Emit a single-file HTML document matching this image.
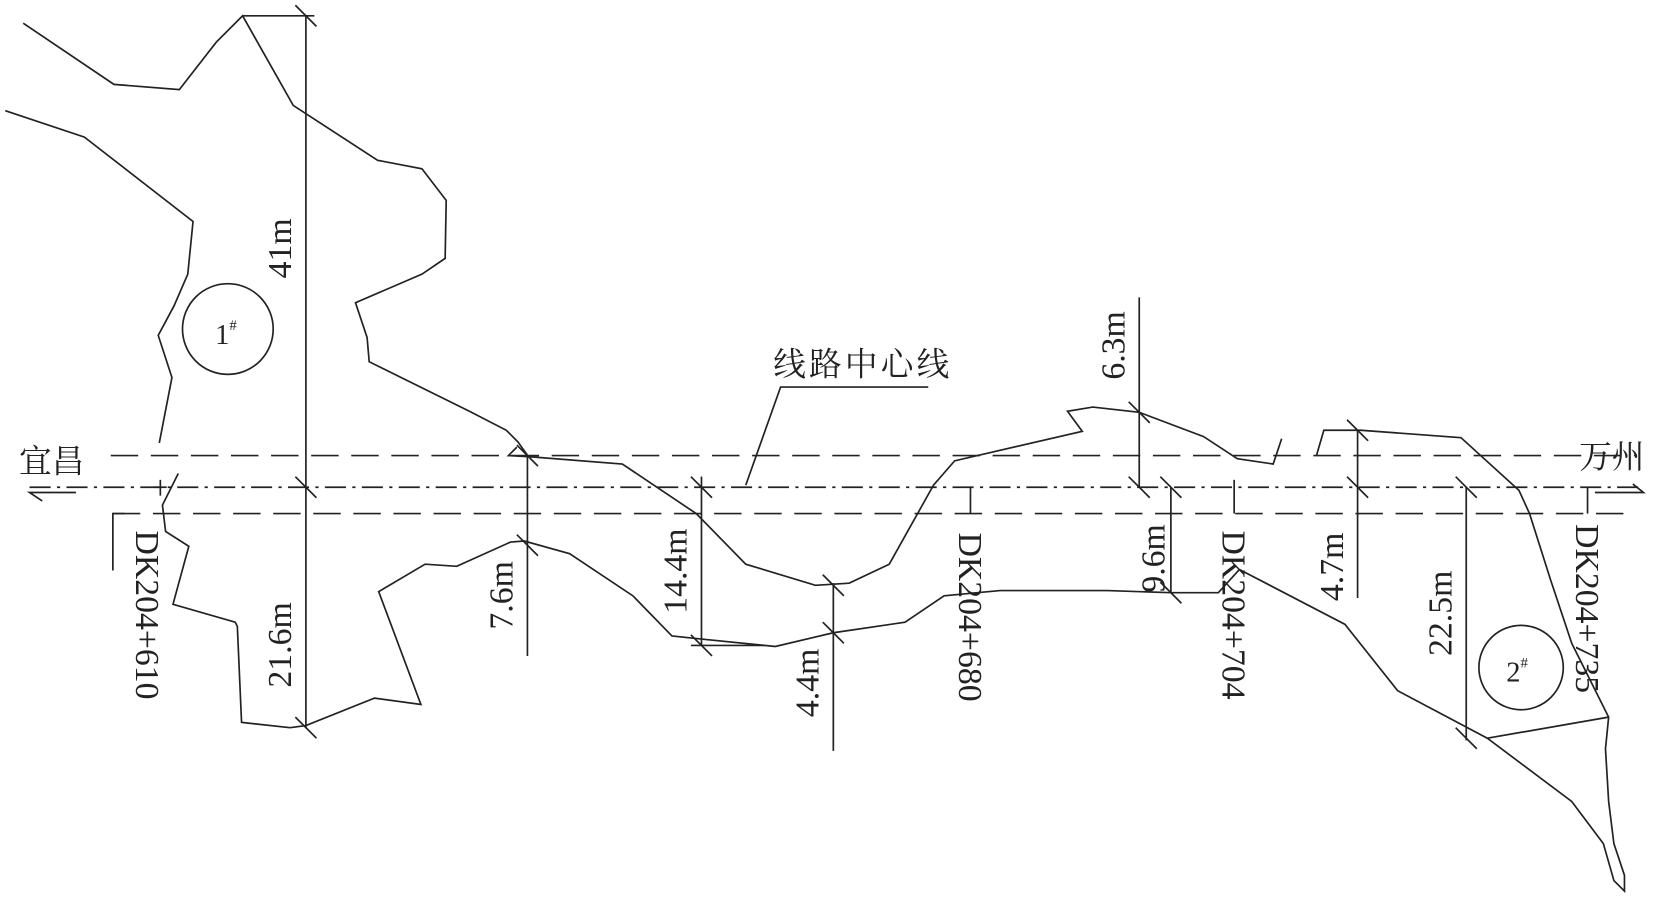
<!DOCTYPE html>
<html><head><meta charset="utf-8"><style>
html,body{margin:0;padding:0;background:#fff;}
svg{display:block}
text{font-family:"Liberation Serif","Noto Serif CJK SC",serif;fill:#222}
</style></head><body>
<svg width="1654" height="908" viewBox="0 0 1568 861" preserveAspectRatio="none" xmlns="http://www.w3.org/2000/svg">
<g fill="none" stroke="#222" stroke-width="1.6" stroke-linejoin="miter">
<line x1="105" y1="432" x2="1550" y2="432" stroke-dasharray="26,12"/>
<line x1="28" y1="462" x2="1558" y2="462" stroke-dasharray="20,6,3,6"/>
<line x1="107" y1="487" x2="1550" y2="487" stroke-dasharray="26,12"/>
<polyline points="107,541 107,487 118,487"/>
<polyline points="40,475 28,467 72,467"/>
<polyline points="1548,459 1558,467 1512,467"/>
<polyline points="22,22 108,80 170,85 205,40 230,15 278,100 358,152 400,160 423,190 422,245 400,260 337,287 348,320 350,343 445,390 480,408 491,419 501,433 482,432 490,424"/>
<polyline points="501,433 590,440 660,487 707,535 773,555 805,553 843,535 885,460 905,437 1026,409 1012,390 1036,386 1080,391 1141,414 1173,435 1207,440 1215,416"/>
<polyline points="1248,432 1255,408 1290,408 1385,415 1440,465 1450,487 1470,550 1490,610 1525,680 1522,710 1525,760 1530,800 1540,830 1540,845 1530,835 1520,800 1490,760 1410,700 1325,655 1275,592 1175,540"/>
<polyline points="1410,700 1525,680"/>
<polyline points="1175,540 1155,562 1110,562 1050,560 948,560 895,565 858,590 790,600 735,613 665,606 637,603 600,565 540,525 497,513 484,514 433,537 403,535 359,561 399,668 355,662 290,688 275,690 229,685 225,594 223,590 164,573 179,518 157,504 154,479 169,449"/>
<polyline points="5,105 80,130 183,210 178,260 165,290 150,318 163,358 151,420"/>
<line x1="290" y1="15" x2="290" y2="690"/>
<line x1="230" y1="15" x2="298" y2="15"/>
<line x1="500" y1="432" x2="500" y2="622"/>
<line x1="665" y1="452" x2="665" y2="612"/>
<line x1="655" y1="612" x2="725" y2="612"/>
<line x1="790" y1="553" x2="790" y2="712"/>
<line x1="920" y1="462" x2="920" y2="487"/>
<line x1="1080" y1="282" x2="1080" y2="462"/>
<line x1="1110" y1="462" x2="1110" y2="562"/>
<line x1="1170" y1="455" x2="1170" y2="487"/>
<line x1="1287" y1="408" x2="1287" y2="567"/>
<line x1="1390" y1="462" x2="1390" y2="702"/>
<line x1="1505" y1="462" x2="1505" y2="487"/>
<line x1="152" y1="455" x2="152" y2="470"/>
<line x1="146" y1="462" x2="158" y2="462"/>
<g>
<line x1="280" y1="5" x2="300" y2="25"/>
<line x1="280" y1="452" x2="300" y2="472"/>
<line x1="280" y1="680" x2="300" y2="700"/>
<line x1="490" y1="422" x2="510" y2="442"/>
<line x1="490" y1="507" x2="510" y2="527"/>
<line x1="655" y1="452" x2="675" y2="472"/>
<line x1="655" y1="602" x2="675" y2="622"/>
<line x1="780" y1="545" x2="800" y2="565"/>
<line x1="780" y1="590" x2="800" y2="610"/>
<line x1="1070" y1="381" x2="1090" y2="401"/>
<line x1="1070" y1="452" x2="1090" y2="472"/>
<line x1="1100" y1="452" x2="1120" y2="472"/>
<line x1="1100" y1="552" x2="1120" y2="572"/>
<line x1="1277" y1="398" x2="1297" y2="418"/>
<line x1="1277" y1="452" x2="1297" y2="472"/>
<line x1="1380" y1="452" x2="1400" y2="472"/>
<line x1="1380" y1="690" x2="1400" y2="710"/>
</g>
<circle cx="216" cy="312" r="43"/>
<circle cx="1442" cy="633" r="40"/>
<polyline points="707,460 740,367 880,367"/>
</g>
<g font-size="32">
<text x="18" y="448" font-size="31">宜昌</text>
<text x="1497" y="444" font-size="31">万州</text>
<text x="733" y="356" font-size="31" letter-spacing="3">线路中心线</text>
<text x="204" y="326" font-size="27">1<tspan font-size="14" dy="-13">#</tspan></text>
<text x="1428" y="646" font-size="27">2<tspan font-size="14" dy="-13">#</tspan></text>
<text transform="translate(276,264) rotate(-90)">41m</text>
<text transform="translate(276,652) rotate(-90)">21.6m</text>
<text transform="translate(486,597) rotate(-90)">7.6m</text>
<text transform="translate(651,582) rotate(-90)">14.4m</text>
<text transform="translate(776,680) rotate(-90)">4.4m</text>
<text transform="translate(1066,360) rotate(-90)">6.3m</text>
<text transform="translate(1104,562) rotate(-90)">9.6m</text>
<text transform="translate(1273,570) rotate(-90)">4.7m</text>
<text transform="translate(1376,622) rotate(-90)">22.5m</text>
<text transform="translate(129,503) rotate(90)">DK204+610</text>
<text transform="translate(909,505) rotate(90)">DK204+680</text>
<text transform="translate(1159,503) rotate(90)">DK204+704</text>
<text transform="translate(1494,497) rotate(90)">DK204+735</text>
</g>
</svg>
</body></html>
